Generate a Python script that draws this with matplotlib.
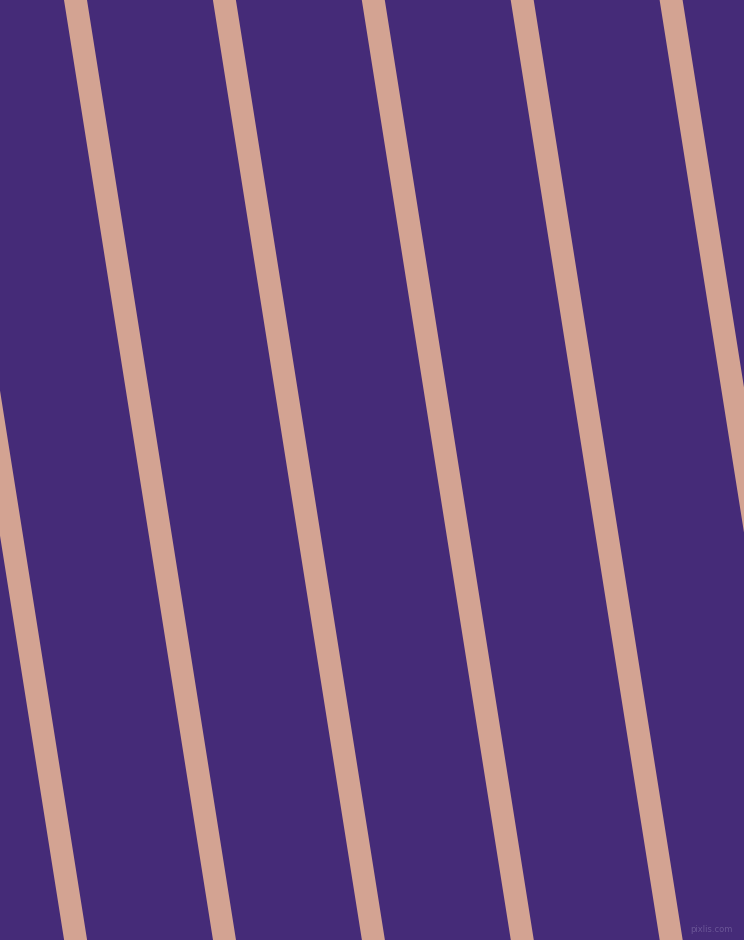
import matplotlib
matplotlib.use("Agg")
import matplotlib.pyplot as plt
import numpy as np

# stripe centres where they cross the top edge (px), drift per px down, width
stripe_top_x = [-73.4, 75.5, 224.4, 373.3, 522.2, 671.1, 820.0]
stripe_drift = 0.1585
stripe_width = 23.0

background = "#452b78"
stripe_color = "#d3a392"

W, H = 744, 940
fig = plt.figure(figsize=(W / 100, H / 100), dpi=100)
ax = fig.add_axes([0, 0, 1, 1])
ax.set_facecolor(background)
ax.set_xlim(0, W)
ax.set_ylim(H, 0)
ax.axis("off")
fig.patch.set_facecolor(background)

y = np.array([-10.0, H + 10.0])
for x0 in stripe_top_x:
    centre = x0 + stripe_drift * y
    ax.fill_betweenx(y, centre - stripe_width / 2, centre + stripe_width / 2,
                     color=stripe_color, linewidth=0)

ax.text(733, 929, "pixlis.com", fontsize=6, color="#6a5596",
        ha="right", va="center")

fig.savefig("out.png", dpi=100, facecolor=background)
